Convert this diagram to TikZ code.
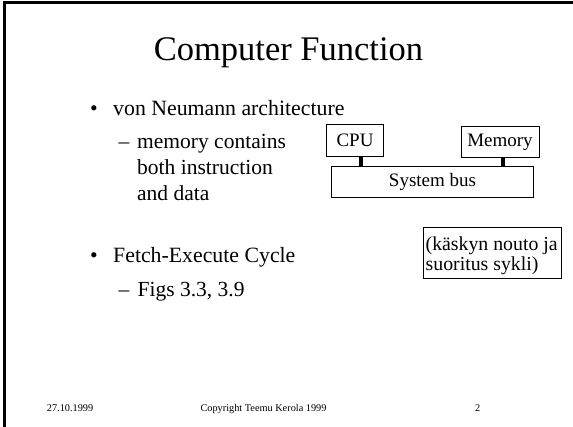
\documentclass[tikz,border=0pt]{standalone}
\usepackage{fontspec}
\setmainfont{Liberation Serif}
\begin{document}
\begin{tikzpicture}[x=1pt,y=-1pt,
  txt/.style={inner sep=0pt, anchor=base west},
  main/.style={txt, font=\fontsize{21.8}{25}\selectfont},
  sub/.style={txt, font=\fontsize{21.5}{25}\selectfont},
  foot/.style={inner sep=0pt, anchor=base, font=\fontsize{10.3}{12}\selectfont},
  unit/.style={draw, line width=1pt, inner sep=0pt, font=\fontsize{19}{22}\selectfont},
  notetext/.style={txt, font=\fontsize{19.8}{22}\selectfont},
  buslink/.style={line width=4pt}]
\fill[white] (0,0) rectangle (573,427);
\useasboundingbox (0,0) rectangle (573,427);

% slide frame (left and top edges)
\draw[line width=2.6pt] (4.2,427) -- (4.2,2.8) -- (573,2.8);

% title
\node[inner sep=0pt, anchor=base, font=\fontsize{34.5}{40}\selectfont] (title) at (288.5,61) {Computer Function};

% first bullet
\node[main, anchor=base] (b1) at (94,116) {•};
\node[main] (t1) at (113,116) {von Neumann architecture};
\node[sub] (d1) at (118.5,149) {–};
\node[sub] (s1) at (137,149) {memory contains};
\node[sub] (s2) at (137,175) {both instruction};
\node[sub] (s3) at (137,200.5) {and data};

% second bullet
\node[main, anchor=base] (b2) at (94,263) {•};
\node[main] (t2) at (113,263) {Fetch-Execute Cycle};
\node[sub] (d2) at (118.5,297) {–};
\node[sub] (s4) at (137.5,297) {Figs 3.3, 3.9};

% system diagram
\node[unit, minimum width=56.7pt, minimum height=31.7pt] (cpu) at (355,140.8) {CPU};
\node[unit, minimum width=78pt, minimum height=31pt] (mem) at (500,142.2) {Memory};
\node[unit, minimum width=201.7pt, minimum height=30.7pt] (bus) at (432.5,182) {System bus};
\draw[buslink] ([xshift=6pt]cpu.south) -- ([xshift=6pt]cpu.south |- bus.north);
\draw[buslink] ([xshift=2.7pt]mem.south) -- ([xshift=2.7pt]mem.south |- bus.north);

% translation note
\node[draw, line width=1pt, inner sep=0pt, minimum width=138pt, minimum height=50.5pt, anchor=north west] (note) at (422.7,227.2) {};
\node[notetext] (n1) at (425.5,250.7) {(käskyn nouto ja};
\node[notetext] (n2) at (425.5,270.3) {suoritus sykli)};

% footer
\node[foot, anchor=base west] (date) at (46.7,412) {27.10.1999};
\node[foot] (copy) at (263.5,412) {Copyright Teemu Kerola 1999};
\node[foot, anchor=base west] (page) at (475,412) {2};
\end{tikzpicture}
\end{document}
